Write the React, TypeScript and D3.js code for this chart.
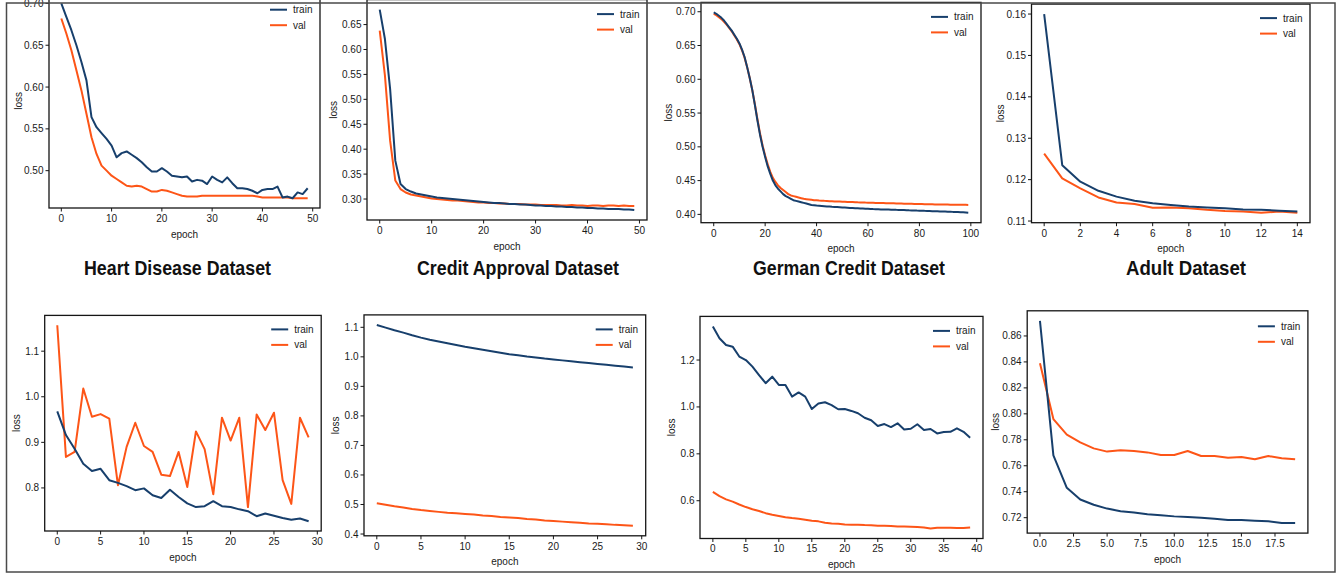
import React from 'react';
import * as d3 from 'd3';

// ---------- DATA ----------
const heartTrain = [0.700, 0.684, 0.668, 0.650, 0.630, 0.608, 0.564, 0.552, 0.545, 0.538,
  0.530, 0.516, 0.521, 0.523, 0.519, 0.515, 0.510, 0.504, 0.499, 0.499,
  0.503, 0.499, 0.494, 0.493, 0.492, 0.493, 0.487, 0.489, 0.488, 0.484,
  0.493, 0.489, 0.486, 0.492, 0.485, 0.479, 0.479, 0.478, 0.476, 0.473,
  0.477, 0.478, 0.478, 0.481, 0.468, 0.469, 0.467, 0.474, 0.472, 0.479];
const heartVal = [0.682, 0.664, 0.644, 0.620, 0.596, 0.568, 0.540, 0.520, 0.506, 0.500,
  0.494, 0.490, 0.486, 0.482, 0.481, 0.482, 0.481, 0.478, 0.475, 0.475,
  0.477, 0.476, 0.474, 0.472, 0.470, 0.469, 0.469, 0.469, 0.470, 0.470,
  0.470, 0.470, 0.470, 0.470, 0.470, 0.470, 0.470, 0.470, 0.470, 0.469,
  0.468, 0.468, 0.468, 0.468, 0.468, 0.468, 0.467, 0.467, 0.467, 0.467];

const creditTrain = [0.680, 0.621, 0.521, 0.377, 0.330, 0.320, 0.315, 0.311, 0.309, 0.307,
  0.305, 0.303, 0.302, 0.301, 0.300, 0.299, 0.298, 0.297, 0.296, 0.295,
  0.294, 0.293, 0.292, 0.292, 0.291, 0.290, 0.290, 0.289, 0.289, 0.288,
  0.287, 0.287, 0.286, 0.286, 0.285, 0.285, 0.284, 0.284, 0.283, 0.283,
  0.282, 0.282, 0.281, 0.281, 0.280, 0.280, 0.280, 0.279, 0.279, 0.278];
const creditVal = [0.638, 0.548, 0.417, 0.337, 0.320, 0.313, 0.309, 0.307, 0.305, 0.303,
  0.301, 0.300, 0.299, 0.298, 0.297, 0.297, 0.296, 0.295, 0.294, 0.293,
  0.293, 0.292, 0.292, 0.291, 0.291, 0.290, 0.290, 0.290, 0.289, 0.289,
  0.289, 0.288, 0.288, 0.288, 0.288, 0.287, 0.287, 0.288, 0.287, 0.287,
  0.286, 0.287, 0.287, 0.286, 0.287, 0.287, 0.286, 0.287, 0.286, 0.286];

const germanTrain = [0.699, 0.697, 0.694, 0.691, 0.687, 0.682, 0.677, 0.672, 0.666, 0.660,
  0.653, 0.644, 0.633, 0.618, 0.602, 0.584, 0.562, 0.539, 0.518, 0.500,
  0.485, 0.471, 0.460, 0.450, 0.443, 0.438, 0.434, 0.430, 0.427, 0.425,
  0.423, 0.421, 0.420, 0.419, 0.418, 0.417, 0.416, 0.415, 0.414, 0.4135,
  0.4130, 0.4127, 0.4124, 0.4121, 0.4118, 0.4115, 0.4112, 0.4110, 0.4108, 0.4105,
  0.4102, 0.4100, 0.4098, 0.4096, 0.4094, 0.4092, 0.4090, 0.4088, 0.4086, 0.4084,
  0.4082, 0.4080, 0.4078, 0.4077, 0.4076, 0.4074, 0.4073, 0.4072, 0.4071, 0.4070,
  0.4069, 0.4067, 0.4066, 0.4064, 0.4063, 0.4062, 0.4060, 0.4059, 0.4058, 0.4056,
  0.4055, 0.4054, 0.4052, 0.4051, 0.4050, 0.4048, 0.4047, 0.4046, 0.4044, 0.4043,
  0.4042, 0.4040, 0.4039, 0.4037, 0.4036, 0.4034, 0.4032, 0.4030, 0.4028, 0.4025];
const germanVal = [0.697, 0.695, 0.692, 0.689, 0.685, 0.681, 0.676, 0.671, 0.665, 0.659,
  0.652, 0.643, 0.632, 0.618, 0.602, 0.584, 0.563, 0.541, 0.520, 0.502,
  0.487, 0.474, 0.463, 0.454, 0.448, 0.443, 0.439, 0.436, 0.433, 0.430,
  0.428, 0.427, 0.426, 0.425, 0.424, 0.423, 0.4225, 0.4220, 0.4215, 0.4210,
  0.4208, 0.4205, 0.4203, 0.4200, 0.4198, 0.4196, 0.4194, 0.4192, 0.4190, 0.4189,
  0.4188, 0.4186, 0.4184, 0.4183, 0.4182, 0.4180, 0.4178, 0.4177, 0.4176, 0.4174,
  0.4173, 0.4172, 0.4171, 0.4170, 0.4169, 0.4168, 0.4167, 0.4166, 0.4165, 0.4164,
  0.4163, 0.4162, 0.4161, 0.4160, 0.4159, 0.4158, 0.4157, 0.4156, 0.4155, 0.4154,
  0.4153, 0.4152, 0.4151, 0.4150, 0.4150, 0.4149, 0.4148, 0.4148, 0.4147, 0.4146,
  0.4146, 0.4145, 0.4144, 0.4144, 0.4143, 0.4142, 0.4142, 0.4141, 0.4141, 0.4140];

const adultTrain = [0.1600, 0.1235, 0.1195, 0.1173, 0.1159, 0.1149, 0.1143, 0.1139,
  0.1135, 0.1133, 0.1131, 0.1128, 0.1127, 0.1125, 0.1123];
const adultVal = [0.1263, 0.1203, 0.1179, 0.1157, 0.1145, 0.1141, 0.1132, 0.1133,
  0.1131, 0.1127, 0.1124, 0.1123, 0.1120, 0.1123, 0.1120];

const lowerATrain = [0.968, 0.916, 0.886, 0.853, 0.837, 0.842, 0.817, 0.811, 0.804, 0.795,
  0.799, 0.784, 0.778, 0.796, 0.780, 0.766, 0.758, 0.760, 0.771, 0.760,
  0.758, 0.753, 0.749, 0.738, 0.744, 0.739, 0.734, 0.730, 0.733, 0.727];
const lowerAVal = [1.157, 0.868, 0.879, 1.018, 0.956, 0.962, 0.952, 0.806, 0.890, 0.943,
  0.892, 0.879, 0.829, 0.826, 0.879, 0.802, 0.924, 0.885, 0.786, 0.954,
  0.904, 0.954, 0.758, 0.961, 0.927, 0.965, 0.817, 0.765, 0.954, 0.911];

const lowerBTrain = [1.108, 1.099, 1.090, 1.082, 1.073, 1.065, 1.058, 1.052, 1.046, 1.040,
  1.034, 1.029, 1.024, 1.019, 1.014, 1.009, 1.005, 1.001, 0.998, 0.994,
  0.991, 0.988, 0.985, 0.982, 0.979, 0.976, 0.973, 0.970, 0.967, 0.964];
const lowerBVal = [0.504, 0.499, 0.494, 0.490, 0.485, 0.481, 0.478, 0.475, 0.472, 0.470,
  0.468, 0.466, 0.463, 0.461, 0.458, 0.456, 0.454, 0.451, 0.449, 0.446,
  0.444, 0.442, 0.440, 0.438, 0.436, 0.435, 0.433, 0.431, 0.430, 0.428];

const lowerCTrain = [1.343, 1.293, 1.264, 1.257, 1.215, 1.200, 1.172, 1.136, 1.101, 1.129,
  1.094, 1.094, 1.044, 1.062, 1.044, 0.991, 1.015, 1.020, 1.008, 0.990,
  0.991, 0.983, 0.973, 0.954, 0.943, 0.919, 0.927, 0.914, 0.930, 0.904,
  0.907, 0.926, 0.902, 0.906, 0.887, 0.893, 0.894, 0.909, 0.894, 0.869];
const lowerCVal = [0.638, 0.620, 0.606, 0.596, 0.584, 0.573, 0.564, 0.556, 0.547, 0.540,
  0.535, 0.530, 0.526, 0.523, 0.519, 0.515, 0.512, 0.506, 0.503, 0.502,
  0.499, 0.498, 0.498, 0.496, 0.495, 0.493, 0.493, 0.492, 0.490, 0.490,
  0.489, 0.488, 0.486, 0.482, 0.485, 0.485, 0.485, 0.484, 0.484, 0.486];

const lowerDTrain = [0.8716, 0.768, 0.743, 0.734, 0.730, 0.727, 0.725, 0.724, 0.7226, 0.7218,
  0.7210, 0.7205, 0.7200, 0.7192, 0.7182, 0.7182, 0.7177, 0.7172, 0.7159, 0.7159];
const lowerDVal = [0.839, 0.796, 0.784, 0.778, 0.7734, 0.7709, 0.7719, 0.7714, 0.7703, 0.7683,
  0.7683, 0.7714, 0.7675, 0.7675, 0.7662, 0.7668, 0.7650, 0.7675, 0.7657, 0.7650];

const heartXTicks = [0, 10, 20, 30, 40, 50];
const heartYTicks = [0.50, 0.55, 0.60, 0.65, 0.70];
const creditXTicks = [0, 10, 20, 30, 40, 50];
const creditYTicks = [0.30, 0.35, 0.40, 0.45, 0.50, 0.55, 0.60, 0.65];
const germanXTicks = [0, 20, 40, 60, 80, 100];
const germanYTicks = [0.40, 0.45, 0.50, 0.55, 0.60, 0.65, 0.70];
const adultXTicks = [0, 2, 4, 6, 8, 10, 12, 14];
const adultYTicks = [0.11, 0.12, 0.13, 0.14, 0.15, 0.16];
const lowerAXTicks = [0, 5, 10, 15, 20, 25, 30];
const lowerAYTicks = [0.8, 0.9, 1.0, 1.1];
const lowerBXTicks = [0, 5, 10, 15, 20, 25, 30];
const lowerBYTicks = [0.4, 0.5, 0.6, 0.7, 0.8, 0.9, 1.0, 1.1];
const lowerCXTicks = [0, 5, 10, 15, 20, 25, 30, 35, 40];
const lowerCYTicks = [0.6, 0.8, 1.0, 1.2];
const lowerDXTicks = [0, 2.5, 5, 7.5, 10, 12.5, 15, 17.5];
const lowerDYTicks = [0.72, 0.74, 0.76, 0.78, 0.80, 0.82, 0.84, 0.86];

const seriesNames = ['train', 'val'];
const titles = ['Heart Disease Dataset', 'Credit Approval Dataset', 'German Credit Dataset', 'Adult Dataset'];

// ---------- STYLE / LAYOUT ----------
const TRAIN_COLOR = '#173f6c';
const VAL_COLOR = '#fd5517';
const FONT = '"Liberation Sans", Arial, sans-serif';

type Panel = {
  train: number[]; val: number[];
  xTicks: number[]; yTicks: number[];
  xFmt: string; yFmt: string;
  left: number; right: number; top: number; bottom: number;
  ylabOff: number; legTop: number;
};

const panels: Panel[] = [
  { train: heartTrain, val: heartVal, xTicks: heartXTicks, yTicks: heartYTicks, xFmt: 'd', yFmt: '.2f', left: 49, right: 320, top: -6.3, bottom: 208, ylabOff: 31, legTop: 16 },
  { train: creditTrain, val: creditVal, xTicks: creditXTicks, yTicks: creditYTicks, xFmt: 'd', yFmt: '.2f', left: 367, right: 647, top: -0.4, bottom: 220, ylabOff: 34, legTop: 14.5 },
  { train: germanTrain, val: germanVal, xTicks: germanXTicks, yTicks: germanYTicks, xFmt: 'd', yFmt: '.2f', left: 701, right: 981, top: 2.4, bottom: 222.7, ylabOff: 33, legTop: 14.5 },
  { train: adultTrain, val: adultVal, xTicks: adultXTicks, yTicks: adultYTicks, xFmt: 'd', yFmt: '.2f', left: 1031.5, right: 1310, top: 4.1, bottom: 222.7, ylabOff: 31.5, legTop: 14 },
  { train: lowerATrain, val: lowerAVal, xTicks: lowerAXTicks, yTicks: lowerAYTicks, xFmt: 'd', yFmt: '.1f', left: 44.7, right: 321.2, top: 315.4, bottom: 531, ylabOff: 28, legTop: 14 },
  { train: lowerBTrain, val: lowerBVal, xTicks: lowerBXTicks, yTicks: lowerBYTicks, xFmt: 'd', yFmt: '.1f', left: 364, right: 645.7, top: 314.9, bottom: 535.8, ylabOff: 29, legTop: 14.5 },
  { train: lowerCTrain, val: lowerCVal, xTicks: lowerCXTicks, yTicks: lowerCYTicks, xFmt: 'd', yFmt: '.1f', left: 700, right: 983, top: 316.4, bottom: 538.5, ylabOff: 28.5, legTop: 14.5 },
  { train: lowerDTrain, val: lowerDVal, xTicks: lowerDXTicks, yTicks: lowerDYTicks, xFmt: '.1f', yFmt: '.2f', left: 1027.2, right: 1307.9, top: 310.8, bottom: 533.1, ylabOff: 32, legTop: 15.5 },
];

const titleLayout = [
  { cx: 177.5, w: 187 },
  { cx: 518, w: 202 },
  { cx: 849, w: 192 },
  { cx: 1186, w: 120 },
];

function PanelView({ p }: { p: Panel }) {
  const n = p.train.length;
  const xPad = (n - 1) * 0.05;
  const x = d3.scaleLinear().domain([-xPad, n - 1 + xPad]).range([p.left, p.right]);
  const all = p.train.concat(p.val);
  const [mn, mx] = d3.extent(all) as [number, number];
  const yPad = (mx - mn) * 0.05;
  const y = d3.scaleLinear().domain([mn - yPad, mx + yPad]).range([p.bottom, p.top]);
  const line = d3.line<number>().x((_, i) => x(i)).y((d) => y(d));
  const xf = d3.format(p.xFmt);
  const yf = d3.format(p.yFmt);
  const cx = (p.left + p.right) / 2;
  const cy = (p.top + p.bottom) / 2;
  return (
    <g fontFamily={FONT} fontSize={10} fill="#1a1a1a">
      <path d={line(p.val) || ''} fill="none" stroke={VAL_COLOR} strokeWidth={2} strokeLinejoin="round" />
      <path d={line(p.train) || ''} fill="none" stroke={TRAIN_COLOR} strokeWidth={2} strokeLinejoin="round" />
      <rect x={p.left} y={p.top} width={p.right - p.left} height={p.bottom - p.top} fill="none" stroke="#151515" strokeWidth={1.3} />
      {p.xTicks.map((t) => (
        <g key={'x' + t}>
          <line x1={x(t)} x2={x(t)} y1={p.bottom} y2={p.bottom + 3.5} stroke="#151515" strokeWidth={1} />
          <text x={x(t)} y={p.bottom + 13.8} textAnchor="middle">{xf(t)}</text>
        </g>
      ))}
      {p.yTicks.map((t) => (
        <g key={'y' + t}>
          <line x1={p.left - 3.5} x2={p.left} y1={y(t)} y2={y(t)} stroke="#151515" strokeWidth={1} />
          <text x={p.left - 5.5} y={y(t)} dy="0.35em" textAnchor="end">{yf(t)}</text>
        </g>
      ))}
      <text x={cx} y={p.bottom + 26} dy="0.35em" textAnchor="middle">epoch</text>
      <text transform={`translate(${p.left - p.ylabOff},${cy}) rotate(-90)`} dy="0.35em" textAnchor="middle">loss</text>
      {seriesNames.map((s, i) => {
        const ly = p.top + p.legTop + i * 15.5;
        return (
          <g key={s}>
            <line x1={p.right - 50} x2={p.right - 33} y1={ly} y2={ly} stroke={i === 0 ? TRAIN_COLOR : VAL_COLOR} strokeWidth={2} />
            <text x={p.right - 27} y={ly} dy="0.35em">{s}</text>
          </g>
        );
      })}
    </g>
  );
}

export default function App() {
  return (
    <svg width={1343} height={575} style={{ position: 'absolute', left: 0, top: 0, background: '#fff' }}>
      <rect x={0} y={0} width={1343} height={575} fill="#fff" />
      {panels.map((p, i) => <PanelView key={i} p={p} />)}
      {titles.map((t, i) => (
        <text key={t} x={titleLayout[i].cx} y={275} textAnchor="middle" fontFamily={FONT} fontWeight="bold" fontSize={21}
          textLength={titleLayout[i].w} lengthAdjust="spacingAndGlyphs" fill="#111">{t}</text>
      ))}
      <rect x={6.5} y={3} width={1328.5} height={569} fill="none" stroke="#4a4a4a" strokeWidth={1.5} />
    </svg>
  );
}
